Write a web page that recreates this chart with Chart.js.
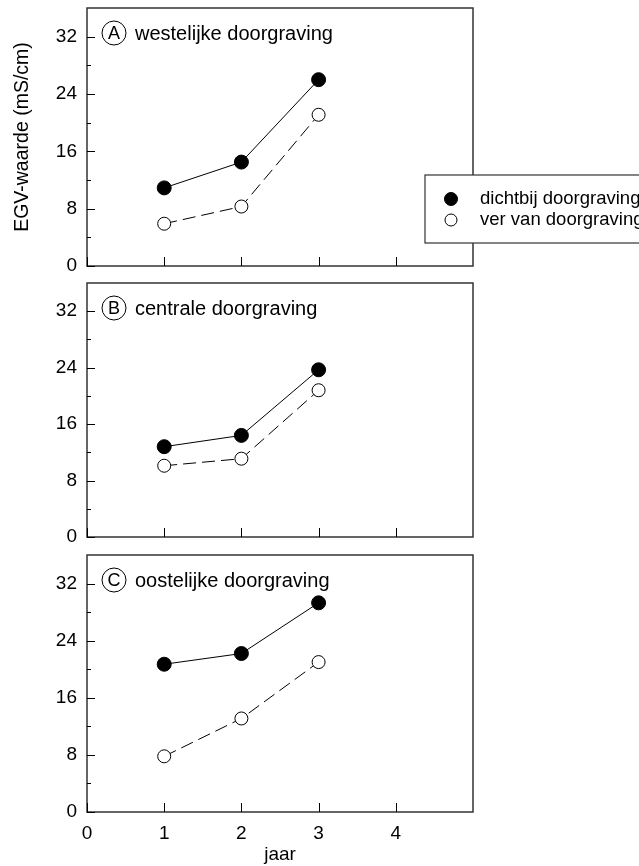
<!DOCTYPE html>
<html>
<head>
<meta charset="utf-8">
<script src="https://cdn.jsdelivr.net/npm/chart.js@4.4.1/dist/chart.umd.min.js"></script>
<style>
    body { margin: 0; background: #fff; width: 639px; height: 866px; position: relative; overflow: hidden; }
    canvas { position: absolute; left: 0; }
</style>
</head>
<body>
<canvas id="panelA" width="639" height="275" style="top:0px"></canvas>
<canvas id="panelB" width="639" height="270" style="top:275px"></canvas>
<canvas id="panelC" width="639" height="321" style="top:545px"></canvas>
<script>
// values (EGV in mS/cm per jaar)
const years = [1, 2, 3];
const westNear = [10.9, 14.5, 26.0];
const westFar = [5.9, 8.3, 21.1];
const centralNear = [12.8, 14.4, 23.7];
const centralFar = [10.1, 11.1, 20.8];
const eastNear = [20.7, 22.2, 29.3];
const eastFar = [7.8, 13.1, 21.0];

const xTicks = [0, 1, 2, 3, 4];
const yMajorTicks = [0, 8, 16, 24, 32];
const yMinorTicks = [4, 12, 20, 28];
const seriesLabels = ['dichtbij doorgraving', 'ver van doorgraving'];

const FONT = "'Liberation Sans', Arial, Helvetica, sans-serif";
const INK = '#000';
const FRAME = '#333';

function toPoints(vals) {
    return years.map((x, i) => ({ x: x, y: vals[i] }));
}

// frame, inside ticks, panel label and (optionally) the legend
function panelPlugin(letter, name, withLegend) {
    return {
        id: 'panel' + letter,
        afterDraw(chart) {
            const ctx = chart.ctx;
            const area = chart.chartArea;
            const xs = chart.scales.x;
            const ys = chart.scales.y;
            ctx.save();

            ctx.strokeStyle = FRAME;
            ctx.lineWidth = 1.5;
            ctx.strokeRect(area.left, area.top, area.right - area.left, area.bottom - area.top);

            ctx.strokeStyle = INK;
            ctx.lineWidth = 1;
            ctx.beginPath();
            yMajorTicks.forEach(v => {
                const py = Math.round(ys.getPixelForValue(v)) + 0.5;
                ctx.moveTo(area.left, py);
                ctx.lineTo(area.left + 8, py);
            });
            yMinorTicks.forEach(v => {
                const py = Math.round(ys.getPixelForValue(v)) + 0.5;
                ctx.moveTo(area.left, py);
                ctx.lineTo(area.left + 4, py);
            });
            xTicks.forEach(v => {
                const px = Math.round(xs.getPixelForValue(v)) + 0.5;
                ctx.moveTo(px, area.bottom);
                ctx.lineTo(px, area.bottom - 9);
            });
            ctx.stroke();

            // circled letter + name
            const cx = area.left + 27;
            const cy = area.top + 25;
            ctx.beginPath();
            ctx.arc(cx, cy, 12, 0, Math.PI * 2);
            ctx.stroke();
            ctx.fillStyle = INK;
            ctx.textAlign = 'center';
            ctx.textBaseline = 'middle';
            ctx.font = '18px ' + FONT;
            ctx.fillText(letter, cx, cy + 1);
            ctx.textAlign = 'left';
            ctx.font = '20px ' + FONT;
            ctx.fillText(name, area.left + 48, cy + 1);

            if (withLegend) {
                const bx = 425, by = 175;
                ctx.fillStyle = '#fff';
                ctx.fillRect(bx, by, 260, 68);
                ctx.strokeStyle = FRAME;
                ctx.lineWidth = 1.2;
                ctx.strokeRect(bx, by, 260, 68);
                const rows = [199, 220];
                chart.data.datasets.forEach((ds, i) => {
                    ctx.beginPath();
                    ctx.arc(451, rows[i], ds.pointRadius - 0.5, 0, Math.PI * 2);
                    ctx.fillStyle = ds.pointBackgroundColor;
                    ctx.fill();
                    ctx.strokeStyle = INK;
                    ctx.lineWidth = 1;
                    ctx.stroke();
                    ctx.fillStyle = INK;
                    ctx.font = '18.5px ' + FONT;
                    ctx.textAlign = 'left';
                    ctx.textBaseline = 'middle';
                    ctx.fillText(ds.label, 480, rows[i]);
                });
            }
            ctx.restore();
        }
    };
}

function makePanel(id, letter, name, near, far, opts) {
    const ctx = document.getElementById(id).getContext('2d');
    return new Chart(ctx, {
        type: 'line',
        data: {
            datasets: [{
                label: seriesLabels[0],
                data: toPoints(near),
                borderColor: INK,
                borderWidth: 1,
                pointRadius: 7,
                pointBackgroundColor: INK,
                pointBorderColor: INK,
                pointBorderWidth: 1
            }, {
                label: seriesLabels[1],
                data: toPoints(far),
                borderColor: INK,
                borderWidth: 1,
                borderDash: [13, 6],
                pointRadius: 6.5,
                pointBackgroundColor: '#fff',
                pointBorderColor: INK,
                pointBorderWidth: 1
            }]
        },
        options: {
            responsive: false,
            animation: false,
            layout: { padding: { left: 0, right: 166, top: opts.top, bottom: 0 } },
            plugins: {
                legend: { display: false },
                tooltip: { enabled: false }
            },
            scales: {
                x: {
                    type: 'linear',
                    min: 0,
                    max: 5,
                    afterBuildTicks: s => { s.ticks = xTicks.map(v => ({ value: v })); },
                    afterFit: s => {
                        s.height = opts.xHeight;
                        s.paddingLeft = 0;
                        s.paddingRight = 0;
                    },
                    grid: { display: false, drawTicks: false },
                    border: { display: false },
                    ticks: {
                        display: opts.xLabels,
                        padding: 10,
                        color: INK,
                        font: { family: FONT, size: 19 }
                    },
                    title: {
                        display: opts.xLabels,
                        text: 'jaar',
                        color: INK,
                        padding: { top: 0, bottom: 0 },
                        font: { family: FONT, size: 19 }
                    }
                },
                y: {
                    min: 0,
                    max: 36,
                    afterBuildTicks: s => { s.ticks = yMajorTicks.map(v => ({ value: v })); },
                    afterFit: s => {
                        s.width = 87;
                        s.paddingTop = 0;
                        s.paddingBottom = 0;
                    },
                    grid: { display: false, drawTicks: false },
                    border: { display: false },
                    ticks: {
                        padding: 10,
                        color: INK,
                        font: { family: FONT, size: 19 }
                    },
                    title: {
                        display: opts.yTitle,
                        text: 'EGV-waarde (mS/cm)',
                        color: INK,
                        padding: { top: 11, bottom: 0 },
                        font: { family: FONT, size: 19.5 }
                    }
                }
            }
        },
        plugins: [panelPlugin(letter, name, opts.legend)]
    });
}

makePanel('panelA', 'A', 'westelijke doorgraving', westNear, westFar,
    { top: 8, xHeight: 9, xLabels: false, yTitle: true, legend: true });
makePanel('panelB', 'B', 'centrale doorgraving', centralNear, centralFar,
    { top: 7, xHeight: 7, xLabels: false, yTitle: false, legend: false });
makePanel('panelC', 'C', 'oostelijke doorgraving', eastNear, eastFar,
    { top: 10, xHeight: 54, xLabels: true, yTitle: false, legend: false });
</script>
</body>
</html>
